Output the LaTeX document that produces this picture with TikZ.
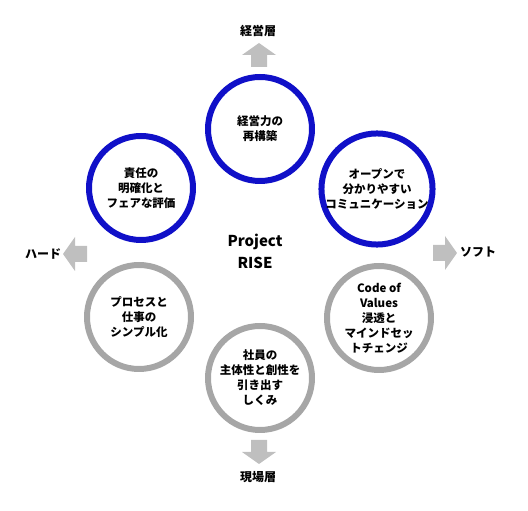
\documentclass[tikz,border=0pt]{standalone}
\usepackage{fontspec}
\setmainfont{Noto Sans CJK JP}
\definecolor{riseblue}{HTML}{1010C8}
\definecolor{risegray}{HTML}{A6A6A6}
\definecolor{arrowgray}{HTML}{BFBFBF}
\tikzset{
  every picture/.style={line cap=round, line join=round},
  ring/.style={circle, line width=6pt, minimum size=104pt, inner sep=0pt, align=center,
    font=\fontsize{11.5}{15}\selectfont\bfseries},
  mgmtring/.style={ring, draw=riseblue},
  floorring/.style={ring, draw=risegray},
  axislabel/.style={font=\fontsize{12}{14}\selectfont\bfseries},
  title/.style={align=center, font=\fontsize{15}{22}\selectfont\bfseries},
  % gray block arrow, tail at the origin, pointing along +x
  blockarrow/.pic={
    \fill[arrowgray] (0,-8) -- (12,-8) -- (12,-17) -- (24,0) -- (12,17) -- (12,8) -- (0,8) -- cycle;
  },
}
\begin{document}
\begin{tikzpicture}[x=1pt, y=1pt]
  \useasboundingbox (0,0) rectangle (528,511);
  % ---------- six themes round the project
  \node[mgmtring]  (rebuild) at (260,382) {経営力の\\再構築};
  \node[mgmtring]  (duty)    at (141,323) {責任の\\明確化と\\フェアな評価};
  \node[mgmtring]  (talk)    at (377,322) {オープンで\\分かりやすい\\コミュニケーション};
  \node[floorring] (simple)  at (139,194) {プロセスと\\仕事の\\シンプル化};
  \node[floorring] (values)  at (379,193) {Code of\\Values\\浸透と\\マインドセッ\\トチェンジ};
  \node[floorring] (drive)   at (260,133) {社員の\\主体性と創性を\\引き出す\\しくみ};
  \node[title] (rise) at (255,260) {Project\\RISE};
  % ---------- axes: management / floor, hard / soft
  \coordinate (upTail)    at (259,444);
  \coordinate (downTail)  at (259,71);
  \coordinate (leftTail)  at (87,257);
  \coordinate (rightTail) at (433,258);
  \pic[rotate=90]  at (upTail)    {blockarrow};
  \pic[rotate=-90] at (downTail)  {blockarrow};
  \pic[rotate=180] at (leftTail)  {blockarrow};
  \pic             at (rightTail) {blockarrow};
  \node[axislabel] (mgmt)  at (258,480) {経営層};
  \node[axislabel] (floor) at (258,34)  {現場層};
  \node[axislabel] (hard)  at (43,257)  {ハード};
  \node[axislabel] (soft)  at (478,259) {ソフト};
\end{tikzpicture}
\end{document}
